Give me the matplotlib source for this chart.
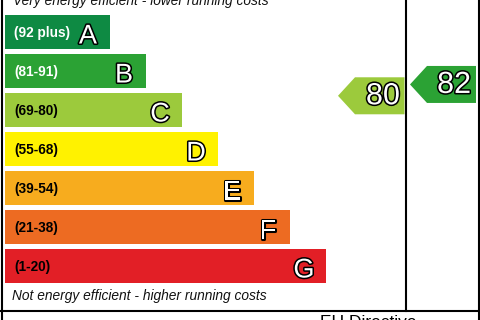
import matplotlib
matplotlib.use("Agg")
import matplotlib.pyplot as plt
from matplotlib.patches import Rectangle, Polygon
import matplotlib.patheffects as pe

bands = ["A", "B", "C", "D", "E", "F", "G"]
ranges = ["(92 plus)", "(81-91)", "(69-80)", "(55-68)", "(39-54)", "(21-38)", "(1-20)"]
lows = [92, 81, 69, 55, 39, 21, 1]
highs = [100, 91, 80, 68, 54, 38, 20]
colors = ["#0e8a43", "#2ba234", "#9cca3c", "#fff200", "#f7ac1e", "#ed6b22", "#e21f26"]
label_colors = ["white", "white", "black", "black", "black", "black", "black"]

current = 80
potential = 82

top_text = "Very energy efficient - lower running costs"
bottom_text = "Not energy efficient - higher running costs"
footer_text = "EU Directive"

font = "Liberation Sans"
outline = [pe.withStroke(linewidth=2.2, foreground="black")]

fig = plt.figure(figsize=(4.8, 3.2), dpi=100)
ax = fig.add_axes([0, 0, 1, 1])
ax.set_xlim(0, 480)
ax.set_ylim(320, 0)
ax.axis("off")

bar_x = 5
bar_top0 = 15
step = 39
bar_h = 33.5


def band_top(i):
    return bar_top0 + step * i


for i, b in enumerate(bands):
    y0 = band_top(i)
    w = 105 + 36 * i
    ax.add_patch(Rectangle((bar_x, y0), w, bar_h, facecolor=colors[i], edgecolor="none"))
    ax.text(14, y0 + bar_h / 2 + 1, ranges[i], fontsize=9.8, fontweight="bold",
            family=font, color=label_colors[i], ha="left", va="center")
    ax.text(bar_x + w - 22, y0 + bar_h - 5, b, fontsize=19.5, family=font,
            color="white", ha="center", va="baseline", path_effects=outline)

ax.text(13, 5, top_text, fontsize=9.9, style="italic", family=font,
        ha="left", va="baseline", color="#111111")
ax.text(12, 300, bottom_text, fontsize=9.9, style="italic", family=font,
        ha="left", va="baseline", color="#111111")
ax.text(320, 327, footer_text, fontsize=12.5, family=font, ha="left", va="baseline")

# frame
lw = 1.5
ax.plot([1.5, 1.5], [0, 320], color="black", lw=lw)
ax.plot([405.5, 405.5], [0, 310.5], color="black", lw=lw)
ax.plot([479, 479], [0, 320], color="black", lw=lw)
ax.plot([0, 480], [310.5, 310.5], color="black", lw=lw)


def score_y(score):
    for i in range(len(bands)):
        if lows[i] <= score <= highs[i]:
            frac = (score - lows[i]) / (highs[i] - lows[i] + 1)
            return band_top(i) + bar_h - frac * bar_h
    return 0


def score_color(score):
    for i in range(len(bands)):
        if lows[i] <= score <= highs[i]:
            return colors[i]
    return "grey"


def arrow(score, x_tip, x_right, text_x):
    yc = score_y(score)
    hh = 18.5
    pts = [(x_tip, yc), (x_tip + 17, yc - hh), (x_right, yc - hh),
           (x_right, yc + hh), (x_tip + 17, yc + hh)]
    ax.add_patch(Polygon(pts, closed=True, facecolor=score_color(score), edgecolor="none"))
    ax.text(text_x, yc + 8.5, str(score), fontsize=22, family=font, color="white",
            ha="center", va="baseline", path_effects=outline)


arrow(current, 338, 404.5, 383)
arrow(potential, 410, 476, 454)

fig.savefig("out.png", dpi=100)
